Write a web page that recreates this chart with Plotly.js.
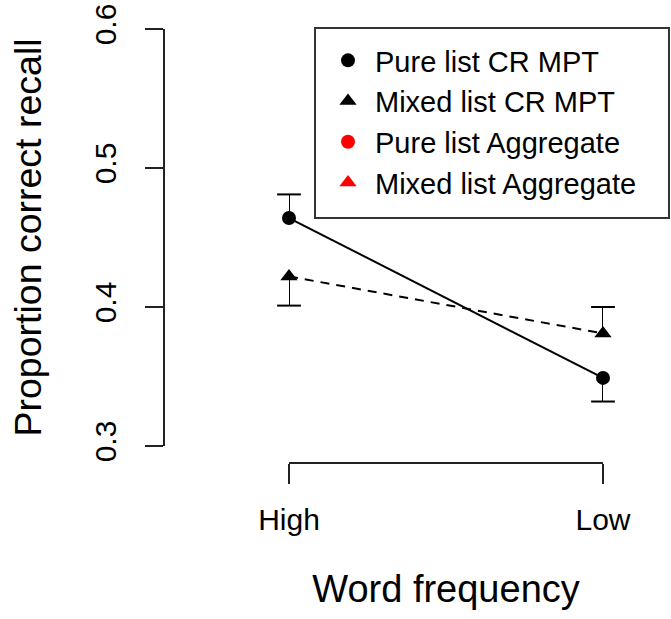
<!DOCTYPE html>
<html>
<head>
<meta charset="utf-8">
<script src="https://cdn.plot.ly/plotly-3.0.1.min.js"></script>
<style>
  html, body { margin: 0; padding: 0; background: #fff; }
  #chart { width: 671px; height: 619px; }
</style>
</head>
<body>
<div id="chart"></div>
<script>
// ---- data ----
var categories = ['High', 'Low'];
var pureMPT = [0.464, 0.349];
var pureMPTErr = [0.017, 0.017];
var pureErrDir = [1, -1];
var mixedMPT = [0.422, 0.381];
var mixedMPTErr = [0.021, 0.019];
var mixedErrDir = [-1, 1];
var pureAggregate = [null, null];
var mixedAggregate = [null, null];
var yTickVals = [0.3, 0.4, 0.5, 0.6];
var seriesNames = ['Pure list CR MPT', 'Mixed list CR MPT', 'Pure list Aggregate', 'Mixed list Aggregate'];

var W = 671, H = 619;
var FONT = 'Liberation Sans, Arial, Helvetica, sans-serif';

function errTraces(means, errs, dirs) {
  var bx = [], by = [], cx = [], cy = [];
  for (var i = 0; i < means.length; i++) {
    var end = means[i] + dirs[i] * errs[i];
    bx.push(categories[i], categories[i], null);
    by.push(means[i], end, null);
    cx.push(categories[i]);
    cy.push(end);
  }
  return [
    {x: bx, y: by, type: 'scatter', mode: 'lines', showlegend: false, hoverinfo: 'skip',
     line: {color: '#000', width: 2}, cliponaxis: false},
    {x: cx, y: cy, type: 'scatter', mode: 'markers', showlegend: false, hoverinfo: 'skip',
     marker: {symbol: 'line-ew-open', size: 17, color: '#000', line: {color: '#000', width: 2}}, cliponaxis: false}
  ];
}

var traces = [];
traces.push({x: categories, y: pureMPT, type: 'scatter', mode: 'lines', showlegend: false,
  line: {color: '#000', width: 2}, cliponaxis: false});
traces.push({x: categories, y: mixedMPT, type: 'scatter', mode: 'lines', showlegend: false,
  line: {color: '#000', width: 2, dash: '9px,7px'}, cliponaxis: false});
traces = traces.concat(errTraces(pureMPT, pureMPTErr, pureErrDir));
traces = traces.concat(errTraces(mixedMPT, mixedMPTErr, mixedErrDir));
traces.push({x: categories, y: pureMPT, type: 'scatter', mode: 'markers', name: seriesNames[0],
  marker: {symbol: 'circle', size: 14, color: '#000'}, cliponaxis: false});
traces.push({x: categories, y: mixedMPT, type: 'scatter', mode: 'markers', name: seriesNames[1],
  marker: {symbol: 'triangle-up', size: 15, color: '#000'}, cliponaxis: false});
traces.push({x: categories, y: pureAggregate, type: 'scatter', mode: 'markers', name: seriesNames[2],
  marker: {symbol: 'circle', size: 14, color: '#ff0000'}, cliponaxis: false});
traces.push({x: categories, y: mixedAggregate, type: 'scatter', mode: 'markers', name: seriesNames[3],
  marker: {symbol: 'triangle-up', size: 15, color: '#ff0000'}, cliponaxis: false});

var layout = {
  width: W, height: H,
  margin: {l: 0, r: 0, t: 0, b: 0, pad: 0},
  paper_bgcolor: '#fff', plot_bgcolor: 'rgba(0,0,0,0)',
  font: {family: FONT, color: '#000'},
  showlegend: true,
  xaxis: {
    type: 'category', categoryorder: 'array', categoryarray: categories,
    range: [0, 1], domain: [289 / W, 603 / W],
    anchor: 'free', position: (H - 462) / H,
    showline: true, linecolor: '#222', linewidth: 1.5,
    ticks: 'outside', ticklen: 20, tickwidth: 1.5, tickcolor: '#222',
    ticklabelstandoff: 10,
    showgrid: false, zeroline: false,
    tickfont: {size: 30, family: FONT, color: '#000'},
    title: {text: 'Word frequency', font: {size: 38, family: FONT, color: '#000'}, standoff: 41},
    automargin: false, fixedrange: true
  },
  yaxis: {
    range: [0.3, 0.6], domain: [(H - 446) / H, (H - 29) / H],
    anchor: 'free', position: 163 / W,
    tickvals: yTickVals, tickformat: '.1f', tickangle: -90,
    showline: true, linecolor: '#222', linewidth: 1.5,
    ticks: 'outside', ticklen: 18, tickwidth: 1.5, tickcolor: '#222',
    ticklabelstandoff: 17,
    showgrid: false, zeroline: false,
    tickfont: {size: 30, family: FONT, color: '#000'},
    title: {text: 'Proportion correct recall', font: {size: 37.5, family: FONT, color: '#000'}, standoff: 34},
    automargin: false, fixedrange: true
  },
  legend: {
    x: 315 / W, y: (H - 35) / H, xanchor: 'left', yanchor: 'top',
    bgcolor: 'rgba(0,0,0,0)', borderwidth: 0,
    font: {size: 29, family: FONT, color: '#000'},
    indentation: 6, itemwidth: 44, traceorder: 'normal'
  },
  shapes: [{
    type: 'rect', xref: 'paper', yref: 'paper',
    x0: 315 / W, x1: 669 / W, y0: (H - 218) / H, y1: (H - 28) / H,
    line: {color: '#333', width: 2}, fillcolor: 'rgba(0,0,0,0)', layer: 'above'
  }]
};

Plotly.newPlot('chart', traces, layout, {staticPlot: true, displayModeBar: false});
</script>
</body>
</html>
